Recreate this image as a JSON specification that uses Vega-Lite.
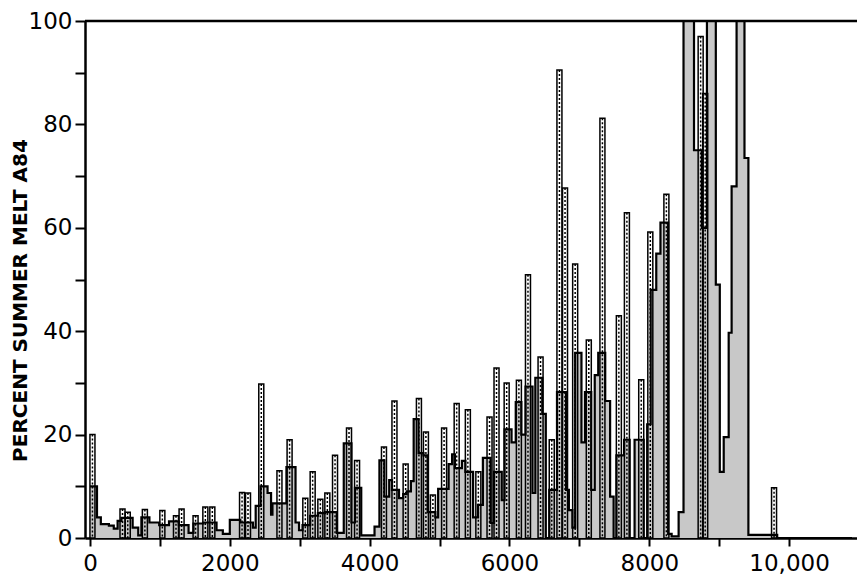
{
  "$schema": "https://vega.github.io/schema/vega-lite/v6.json",
  "width": 772,
  "height": 517,
  "autosize": {"type": "none"},
  "padding": {"left": 85, "top": 21, "right": 0, "bottom": 41},
  "background": "white",
  "view": {"stroke": null},
  "config": {
    "axis": {
      "domainColor": "black",
      "domainWidth": 2.5,
      "tickColor": "black",
      "tickWidth": 2,
      "labelColor": "black",
      "labelFont": "DejaVu Sans",
      "labelFontSize": 23,
      "titleFont": "DejaVu Sans",
      "titleColor": "black",
      "grid": false
    }
  },
  "datasets": {
    "mean": [
      {"x": 0, "v": 10}, {"x": 100, "v": 4}, {"x": 155, "v": 2.7}, {"x": 270, "v": 2.4},
      {"x": 340, "v": 1.8}, {"x": 395, "v": 3.3}, {"x": 450, "v": 3.9}, {"x": 610, "v": 2},
      {"x": 690, "v": 0.5}, {"x": 735, "v": 4}, {"x": 850, "v": 3}, {"x": 990, "v": 2.5},
      {"x": 1130, "v": 3.2}, {"x": 1270, "v": 2.5}, {"x": 1410, "v": 1}, {"x": 1480, "v": 2.8},
      {"x": 1620, "v": 3}, {"x": 1810, "v": 1.5}, {"x": 1900, "v": 0.8}, {"x": 2000, "v": 3.5},
      {"x": 2150, "v": 3}, {"x": 2330, "v": 2}, {"x": 2370, "v": 6.2}, {"x": 2440, "v": 10},
      {"x": 2540, "v": 8.7}, {"x": 2590, "v": 4.5}, {"x": 2610, "v": 6.7}, {"x": 2810, "v": 13.7},
      {"x": 2940, "v": 3}, {"x": 2990, "v": 1.5}, {"x": 3040, "v": 2.5}, {"x": 3150, "v": 4.3},
      {"x": 3260, "v": 4.8}, {"x": 3360, "v": 5}, {"x": 3530, "v": 1}, {"x": 3630, "v": 18.3},
      {"x": 3740, "v": 3}, {"x": 3790, "v": 9.7}, {"x": 3880, "v": 0.5}, {"x": 4070, "v": 2.2},
      {"x": 4140, "v": 15}, {"x": 4210, "v": 8}, {"x": 4280, "v": 11.2}, {"x": 4320, "v": 9.3},
      {"x": 4420, "v": 7.7}, {"x": 4480, "v": 8.5}, {"x": 4530, "v": 9}, {"x": 4590, "v": 11},
      {"x": 4630, "v": 23}, {"x": 4700, "v": 16.4}, {"x": 4770, "v": 16}, {"x": 4830, "v": 5},
      {"x": 4940, "v": 4}, {"x": 4980, "v": 9.5}, {"x": 5130, "v": 14.3}, {"x": 5180, "v": 16.2},
      {"x": 5220, "v": 13.5}, {"x": 5320, "v": 14.9}, {"x": 5370, "v": 12.8}, {"x": 5480, "v": 4},
      {"x": 5550, "v": 6.4}, {"x": 5620, "v": 15.5}, {"x": 5730, "v": 2.9}, {"x": 5780, "v": 12.8},
      {"x": 5890, "v": 7.3}, {"x": 5930, "v": 21}, {"x": 6030, "v": 18.5}, {"x": 6090, "v": 26.3},
      {"x": 6170, "v": 20}, {"x": 6230, "v": 29.3}, {"x": 6330, "v": 8.7}, {"x": 6370, "v": 31},
      {"x": 6470, "v": 24}, {"x": 6520, "v": 0}, {"x": 6570, "v": 9.3}, {"x": 6680, "v": 28.2},
      {"x": 6810, "v": 9.3}, {"x": 6850, "v": 5.4}, {"x": 6900, "v": 2}, {"x": 6940, "v": 35.8},
      {"x": 7030, "v": 18.5}, {"x": 7080, "v": 28.2}, {"x": 7170, "v": 9.3}, {"x": 7220, "v": 31.5},
      {"x": 7270, "v": 35.8}, {"x": 7370, "v": 26.5}, {"x": 7440, "v": 8}, {"x": 7490, "v": 0},
      {"x": 7530, "v": 16}, {"x": 7640, "v": 19}, {"x": 7720, "v": 0}, {"x": 7790, "v": 19},
      {"x": 7920, "v": 0}, {"x": 7970, "v": 22}, {"x": 8020, "v": 48}, {"x": 8100, "v": 55},
      {"x": 8160, "v": 61}, {"x": 8270, "v": 0.8}, {"x": 8320, "v": 0.3}, {"x": 8420, "v": 5},
      {"x": 8490, "v": 100}, {"x": 8640, "v": 75}, {"x": 8754, "v": 60}, {"x": 8825, "v": 100},
      {"x": 8952, "v": 49}, {"x": 9009, "v": 12.8}, {"x": 9065, "v": 19.5}, {"x": 9136, "v": 39.7},
      {"x": 9178, "v": 68}, {"x": 9249, "v": 100}, {"x": 9362, "v": 73.5}, {"x": 9418, "v": 0.6},
      {"x": 9743, "v": 0.6}, {"x": 9830, "v": 0}, {"x": 10900, "v": 0}
    ],
    "max": [
      {"year": 35, "max": 20}, {"year": 465, "max": 5.6}, {"year": 540, "max": 5},
      {"year": 785, "max": 5.5}, {"year": 1035, "max": 5.3}, {"year": 1230, "max": 4.3},
      {"year": 1310, "max": 5.6}, {"year": 1510, "max": 4.3}, {"year": 1650, "max": 6},
      {"year": 1750, "max": 6}, {"year": 2175, "max": 8.8}, {"year": 2260, "max": 8.7},
      {"year": 2450, "max": 29.8}, {"year": 2710, "max": 13}, {"year": 2855, "max": 19},
      {"year": 3080, "max": 7.7}, {"year": 3185, "max": 12.8}, {"year": 3295, "max": 7.5},
      {"year": 3395, "max": 8.7}, {"year": 3505, "max": 16}, {"year": 3705, "max": 21.3},
      {"year": 3820, "max": 15}, {"year": 4205, "max": 17.6}, {"year": 4355, "max": 26.5},
      {"year": 4515, "max": 14.3}, {"year": 4705, "max": 27}, {"year": 4805, "max": 20.5},
      {"year": 4905, "max": 8.3}, {"year": 5065, "max": 21.3}, {"year": 5245, "max": 26},
      {"year": 5405, "max": 24.8}, {"year": 5555, "max": 12.8}, {"year": 5715, "max": 23.4},
      {"year": 5815, "max": 32.9}, {"year": 5960, "max": 30}, {"year": 6135, "max": 30.5},
      {"year": 6265, "max": 50.9}, {"year": 6445, "max": 35}, {"year": 6605, "max": 19},
      {"year": 6715, "max": 90.5}, {"year": 6795, "max": 67.7}, {"year": 6940, "max": 53},
      {"year": 7135, "max": 38.3}, {"year": 7330, "max": 81.2}, {"year": 7565, "max": 43},
      {"year": 7680, "max": 62.9}, {"year": 7885, "max": 30.6}, {"year": 8015, "max": 59.2},
      {"year": 8245, "max": 66.5}, {"year": 8735, "max": 97}, {"year": 8800, "max": 86},
      {"year": 9785, "max": 9.7}
    ]
  },
  "layer": [
    {
      "data": {"name": "mean"},
      "mark": {"type": "area", "interpolate": "step-after", "color": "#c8c8c8", "clip": true},
      "encoding": {
        "x": {
          "field": "x", "type": "quantitative",
          "scale": {"domain": [0, 10900], "nice": false, "zero": false},
          "axis": {
            "title": null,
            "values": [0, 1000, 2000, 3000, 4000, 5000, 6000, 7000, 8000, 9000, 10000],
            "labelExpr": "datum.value == 10000 ? '10,000' : (datum.value % 2000 == 0 ? '' + datum.value : '')",
            "tickSize": 8,
            "labelPadding": 6,
            "labelFlush": false
          }
        },
        "y": {
          "field": "v", "type": "quantitative",
          "scale": {"domain": [0, 100], "nice": false, "clamp": true},
          "axis": {
            "title": "PERCENT SUMMER MELT A84",
            "values": [0, 10, 20, 30, 40, 50, 60, 70, 80, 90, 100],
            "labelExpr": "datum.value % 20 == 0 ? '' + datum.value : ''",
            "tickSize": 10,
            "labelPadding": 3,
            "labelFlush": false,
            "titleFontSize": 20,
            "titleFontWeight": "bold",
            "titleAngle": 270,
            "titleX": -65,
            "titleY": 279,
            "titleAlign": "center",
            "titleBaseline": "middle"
          }
        }
      }
    },
    {
      "data": {"name": "max"},
      "mark": {"type": "bar", "width": 5, "fill": "white", "fillOpacity": 0, "stroke": "black", "strokeWidth": 1.5, "clip": true},
      "encoding": {
        "x": {"field": "year", "type": "quantitative"},
        "y": {"field": "max", "type": "quantitative"},
        "y2": {"datum": 0}
      }
    },
    {
      "data": {"name": "max"},
      "mark": {"type": "rule", "strokeDash": [2, 2], "strokeWidth": 1.5, "color": "black", "clip": true},
      "encoding": {
        "x": {"field": "year", "type": "quantitative"},
        "y": {"field": "max", "type": "quantitative"},
        "y2": {"datum": 0}
      }
    },
    {
      "data": {"name": "mean"},
      "mark": {"type": "line", "interpolate": "step-after", "color": "black", "strokeWidth": 2.2, "clip": true},
      "encoding": {
        "x": {"field": "x", "type": "quantitative"},
        "y": {"field": "v", "type": "quantitative"}
      }
    },
    {
      "data": {"values": [{}]},
      "mark": {"type": "rule", "color": "black", "strokeWidth": 2.5},
      "encoding": {"y": {"datum": 100}}
    }
  ]
}
